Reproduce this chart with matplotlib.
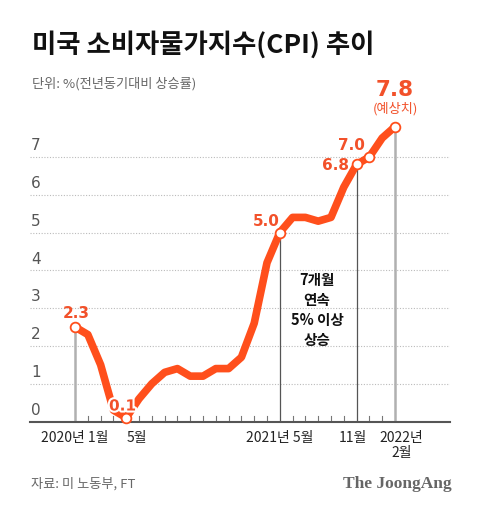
import matplotlib
matplotlib.use("Agg")
import matplotlib.pyplot as plt
import matplotlib.patheffects as pe
import numpy as np

plt.rcParams['font.family'] = ['Noto Sans CJK KR', 'DejaVu Sans']

# === DATA ===
months = list(range(26))  # 2020-01 .. 2022-02
cpi = [2.5, 2.3, 1.5, 0.3, 0.1, 0.6, 1.0, 1.3, 1.4, 1.2, 1.2, 1.4,
       1.4, 1.7, 2.6, 4.2, 5.0, 5.4, 5.4, 5.3, 5.4, 6.2, 6.8, 7.0,
       7.5, 7.8]
yticks = [0, 1, 2, 3, 4, 5, 6, 7]
marker_idx = [0, 4, 16, 22, 23, 25]
marker_labels = ['2.3', '0.1', '5.0', '6.8', '7.0', '7.8']
ref_light = [0, 25]
ref_dark = [16, 22]
xlabel_pos = [0, 4.8, 16, 21.7, 25.5]
xlabel_txt = ['2020년 1월', '5월', '2021년 5월', '11월', '2022년\n2월']

ORANGE = '#FF4F1C'
TXT_OR = '#F2512A'

fig = plt.figure(figsize=(4.8, 5.12), dpi=100)
fig.patch.set_facecolor('white')
ax = fig.add_axes([30 / 480, 1 - 421.5 / 512, 420 / 480, (421.5 - 104) / 512])
ax.set_xlim(-3.52, 29.3)
ax.set_ylim(0, 8.4)

# grid
for v in yticks[1:]:
    ax.axhline(v, color='#bbbbbb', lw=0.8, ls=(0, (1, 1.5)), zorder=0)
for v in yticks:
    ax.text(-3.45, v + 0.1, str(v), fontsize=11, color='#555555',
            ha='left', va='bottom', family='DejaVu Sans')

# reference lines
for i in ref_light:
    ax.plot([i, i], [0, cpi[i]], color='#b0b0b0', lw=1.8, zorder=1)
for i in ref_dark:
    ax.plot([i, i], [0, cpi[i]], color='#555555', lw=0.9, zorder=1)

# month ticks
for i in months[1:-1]:
    if i in ref_dark:
        continue
    ax.plot([i, i], [0, 0.15], color='#777777', lw=0.8, zorder=1)

ax.plot(months, cpi, color=ORANGE, lw=5.5, solid_capstyle='round',
        solid_joinstyle='round', zorder=3, clip_on=False)
ax.plot([months[i] for i in marker_idx], [cpi[i] for i in marker_idx], 'o',
        ms=7, mfc='white', mec=ORANGE, mew=1.3, zorder=4, clip_on=False)

stroke = [pe.withStroke(linewidth=3, foreground='white')]
val_kw = dict(color=TXT_OR, fontsize=11, fontweight='bold', ha='center',
              va='center', family='DejaVu Sans', clip_on=False)
ax.text(0.06, 2.86, marker_labels[0], **val_kw)
ax.text(3.7, 0.41, marker_labels[1], path_effects=stroke, zorder=5, **val_kw)
ax.text(14.96, 5.3, marker_labels[2], **val_kw)
ax.text(20.35, 6.78, marker_labels[3], **val_kw)
ax.text(21.6, 7.31, marker_labels[4], **val_kw)
ax.text(25, 8.77, marker_labels[5], color=TXT_OR, fontsize=15.5, fontweight='bold',
        ha='center', va='center', family='DejaVu Sans', clip_on=False)
ax.text(25, 8.27, '(예상치)', color=TXT_OR, fontsize=9.5,
        ha='center', va='center', clip_on=False)

ax.text(18.9, 3.95, '7개월\n연속\n5% 이상\n상승', fontsize=10.5, fontweight='bold',
        color='#111111', ha='center', va='top', linespacing=1.3)

for x, t in zip(xlabel_pos, xlabel_txt):
    ax.text(x, -0.25, t, fontsize=10, color='#222222', ha='center', va='top',
            linespacing=1.1, clip_on=False)

for s in ['top', 'right', 'left']:
    ax.spines[s].set_visible(False)
ax.spines['bottom'].set_color('#555555')
ax.spines['bottom'].set_linewidth(1.5)
ax.set_xticks([])
ax.set_yticks([])

fig.text(32 / 480, 1 - 45 / 512, '미국 소비자물가지수(CPI) 추이', fontsize=19,
         fontweight='bold', color='#111111', ha='left', va='center')
fig.text(32 / 480, 1 - 84 / 512, '단위: %(전년동기대비 상승률)', fontsize=9.5,
         color='#666666', ha='left', va='center')
fig.text(31 / 480, 1 - 484 / 512, '자료: 미 노동부, FT', fontsize=9.5,
         color='#666666', ha='left', va='center')
fig.text(452 / 480, 1 - 484 / 512, 'The JoongAng', fontsize=12.5,
         fontweight='bold', color='#666666', ha='right', va='center',
         family='Liberation Serif')

fig.savefig('out.png', dpi=100, facecolor='white')
